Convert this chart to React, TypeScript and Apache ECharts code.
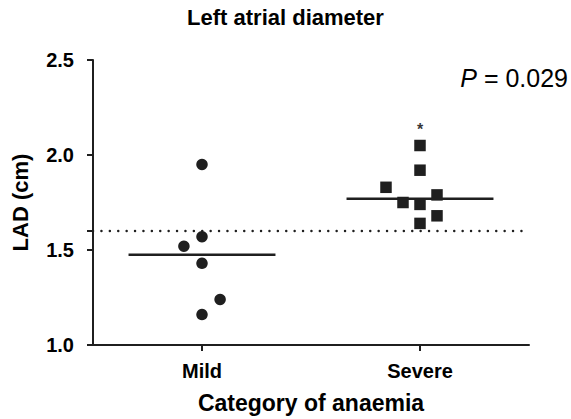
import React, { useEffect, useRef } from "react";
import * as echarts from "echarts";

const categories = ["Mild", "Severe"];
const mildValues = [1.95, 1.57, 1.52, 1.43, 1.24, 1.16];
const mildJitter = [0, 0, -0.083, 0, 0.083, 0];
const severeValues = [2.05, 1.92, 1.83, 1.75, 1.74, 1.79, 1.68, 1.64];
const severeJitter = [0, 0, -0.156, -0.078, 0, 0.078, 0.078, 0];
const referenceLine = 1.6;
const yTicks = [1.0, 1.5, 1.6, 2.0, 2.5];
const yLabels = [1.0, 1.5, 2.0, 2.5];
const significance = ["", "*"];
const pText = "0.029";

const FONT = "'Liberation Sans', Arial, Helvetica, sans-serif";
const INK = "#1f1f1f";

function median(a: number[]) {
  const s = [...a].sort((x, y) => x - y);
  const m = Math.floor(s.length / 2);
  return s.length % 2 ? s[m] : (s[m - 1] + s[m]) / 2;
}

export default function App() {
  const ref = useRef<HTMLDivElement>(null);
  useEffect(() => {
    document.body.style.margin = "0";
    if (!ref.current) return;
    const chart = echarts.init(ref.current, null, { renderer: "svg" });
    const mildMed = median(mildValues);
    const sevMed = median(severeValues);
    const half = 0.337;
    const option: any = {
      animation: false,
      title: {
        text: "Left atrial diameter",
        left: "center",
        top: 1,
        textStyle: { fontFamily: FONT, fontSize: 22, fontWeight: "bold", color: "#000" },
      },
      grid: { left: 93, right: 42, top: 60, bottom: 71, containLabel: false },
      xAxis: {
        type: "value",
        min: 0.5,
        max: 2.5,
        name: "Category of anaemia",
        nameLocation: "middle",
        nameGap: 46,
        nameTextStyle: { fontFamily: FONT, fontSize: 23, fontWeight: "bold", color: "#000" },
        splitLine: { show: false },
        axisLine: { show: true, lineStyle: { color: INK, width: 2 } },
        axisTick: { show: true, customValues: [1, 2], length: 6, lineStyle: { color: INK, width: 2 } },
        axisLabel: {
          customValues: [1, 2],
          formatter: (v: number) => categories[Math.round(v) - 1] ?? "",
          margin: 16,
          fontFamily: FONT,
          fontSize: 20,
          fontWeight: "bold",
          color: "#000",
        },
      },
      yAxis: {
        type: "value",
        min: 1.0,
        max: 2.5,
        name: "LAD (cm)",
        nameLocation: "middle",
        nameGap: 62,
        nameTextStyle: { fontFamily: FONT, fontSize: 22, fontWeight: "bold", color: "#000" },
        splitLine: { show: false },
        axisLine: { show: true, lineStyle: { color: INK, width: 2 } },
        axisTick: { show: true, customValues: yTicks, length: 6, lineStyle: { color: INK, width: 2 } },
        axisLabel: {
          customValues: yLabels,
          formatter: (v: number) => v.toFixed(1),
          margin: 19,
          fontFamily: FONT,
          fontSize: 20,
          fontWeight: "bold",
          color: "#000",
        },
      },
      graphic: [
        {
          type: "text",
          right: 3,
          top: 65,
          style: {
            text: "{i|P} = " + pText,
            fontFamily: FONT,
            fontSize: 25,
            fill: "#000",
            rich: { i: { fontStyle: "italic", fontFamily: FONT, fontSize: 25 } },
          },
        },
      ],
      series: [
        {
          type: "scatter",
          symbol: "circle",
          symbolSize: 11.5,
          itemStyle: { color: INK, opacity: 1 },
          data: mildValues.map((v, i) => [1 + mildJitter[i], v]),
          markLine: {
            silent: true,
            symbol: "none",
            label: { show: false },
            lineStyle: { color: INK, width: 2.4, type: [0.1, 8.3], cap: "round" },
            data: [{ yAxis: referenceLine }],
          },
          z: 3,
        },
        {
          type: "scatter",
          symbol: "rect",
          symbolSize: 11.5,
          itemStyle: { color: INK, opacity: 1 },
          data: severeValues.map((v, i) => [2 + severeJitter[i], v]),
          z: 3,
        },
        {
          type: "line",
          symbol: "none",
          lineStyle: { color: INK, width: 2.5 },
          data: [
            [1 - half, mildMed],
            [1 + half, mildMed],
          ],
          z: 2,
        },
        {
          type: "line",
          symbol: "none",
          lineStyle: { color: INK, width: 2.5 },
          data: [
            [2 - half, sevMed],
            [2 + half, sevMed],
          ],
          z: 2,
        },
        {
          type: "scatter",
          symbolSize: 1,
          itemStyle: { color: "transparent" },
          label: {
            show: true,
            position: "inside",
            formatter: (p: any) => significance[p.dataIndex],
            fontFamily: FONT,
            fontSize: 16,
            fontWeight: "bold",
            color: "#000",
          },
          data: [
            [1, Math.max(...mildValues) + 0.09],
            [2, Math.max(...severeValues) + 0.085],
          ],
        },
      ],
    };
    chart.setOption(option);
    return () => chart.dispose();
  }, []);
  return (
    <div
      ref={ref}
      style={{ position: "fixed", left: 0, top: 0, width: 571, height: 419, background: "#fff" }}
    />
  );
}
